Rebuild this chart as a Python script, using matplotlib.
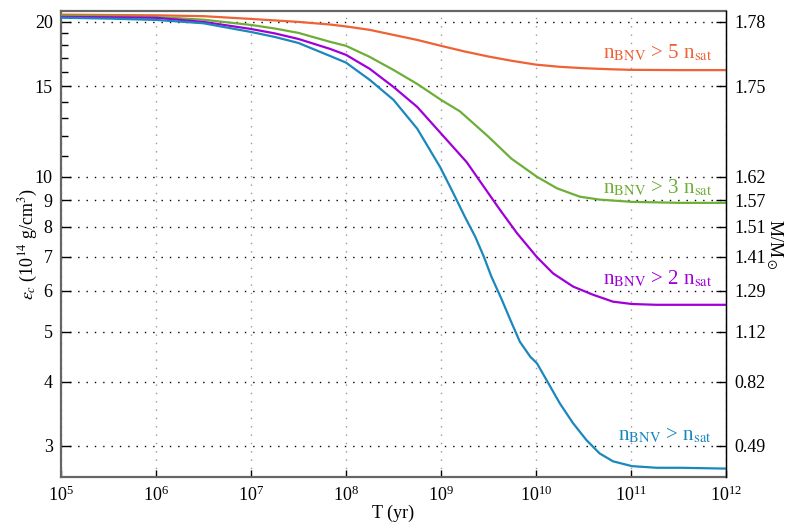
import numpy as np
import matplotlib
matplotlib.use('Agg')
import matplotlib.pyplot as plt
from matplotlib.ticker import FixedLocator, NullLocator, NullFormatter

plt.rcParams['font.family'] = 'serif'
plt.rcParams['font.serif'] = ['Liberation Serif', 'DejaVu Serif']
plt.rcParams['mathtext.fontset'] = 'stix'

# values: log10(T / yr) and central energy density (1e14 g/cm3)
logT_5nsat = [5, 5.5, 6, 6.5, 7, 7.5, 7.83, 8, 8.25, 8.5, 8.75, 9, 9.25, 9.5, 9.75,
              10, 10.25, 10.5, 10.75, 11, 11.5, 12]
eps_5nsat = [20.66, 20.63, 20.6, 20.52, 20.27, 20.0, 19.77, 19.6, 19.3, 18.87, 18.45,
             17.97, 17.52, 17.13, 16.80, 16.52, 16.36, 16.26, 16.19, 16.14, 16.12, 16.12]

logT_3nsat = [5, 5.5, 6, 6.5, 7, 7.25, 7.5, 7.83, 8, 8.25, 8.5, 8.75, 9, 9.2, 9.5, 9.74,
              10.01, 10.22, 10.46, 10.67, 11.01, 11.52, 12]
eps_3nsat = [20.55, 20.5, 20.45, 20.2, 19.73, 19.42, 19.04, 18.3, 17.97, 17.10, 16.13, 15.15,
             14.11, 13.40, 11.96, 10.85, 10.0, 9.50, 9.15, 9.03, 8.94, 8.90, 8.90]

logT_2nsat = [5, 5.5, 6, 6.5, 7, 7.25, 7.5, 7.83, 8, 8.25, 8.5, 8.75, 9, 9.27, 9.45, 9.62,
              9.80, 10.01, 10.18, 10.39, 10.60, 10.81, 11.01, 11.27, 12]
eps_2nsat = [20.45, 20.42, 20.37, 20.0, 19.38, 19.0, 18.53, 17.73, 17.26, 16.21, 14.95, 13.67,
             12.14, 10.68, 9.57, 8.63, 7.77, 6.98, 6.49, 6.12, 5.90, 5.72, 5.66, 5.64, 5.64]

logT_1nsat = [5, 5.5, 6, 6.5, 7, 7.25, 7.5, 7.83, 8, 8.25, 8.5, 8.75, 8.99, 9.13, 9.25, 9.36,
              9.45, 9.53, 9.64, 9.73, 9.83, 9.94, 10.01, 10.11, 10.25, 10.39, 10.53,
              10.67, 10.81, 11.01, 11.27, 11.52, 12]
eps_1nsat = [20.38, 20.3, 20.18, 19.88, 19.12, 18.70, 18.2, 17.18, 16.67, 15.43, 14.11, 12.4,
             10.45, 9.29, 8.37, 7.65, 7.0, 6.40, 5.77, 5.27, 4.78, 4.47, 4.34, 4.03, 3.63,
             3.32, 3.08, 2.90, 2.80, 2.74, 2.72, 2.72, 2.71]

curve_labels = [r'n$_{\rm BNV}$ > 5 n$_{\rm sat}$', r'n$_{\rm BNV}$ > 3 n$_{\rm sat}$',
                r'n$_{\rm BNV}$ > 2 n$_{\rm sat}$', r'n$_{\rm BNV}$ > n$_{\rm sat}$']
label_y = [17.02, 9.30, 6.17, 3.08]
colors = ['#EE6235', '#6DAE37', '#A000D8', '#1A87BD']

eps_ticks = [3, 4, 5, 6, 7, 8, 9, 10, 15, 20]
eps_minor = [11, 12, 13, 14, 16, 17, 18, 19]
mass_labels = ['0.49', '0.82', '1.12', '1.29', '1.41', '1.51', '1.57', '1.62', '1.75', '1.78']

curves = [(logT_5nsat, eps_5nsat), (logT_3nsat, eps_3nsat),
          (logT_2nsat, eps_2nsat), (logT_1nsat, eps_1nsat)]

fig = plt.figure(figsize=(7.89, 5.22), dpi=100)
ax = fig.add_axes([0.0773, 0.0862, 0.8429, 0.8927])

for (lt, eps), c, lab, ly in zip(curves, colors, curve_labels, label_y):
    ax.plot(10.0 ** np.array(lt), eps, color=c, lw=1.6, zorder=3)
    ax.text(7.1e11, ly, lab, color=c, fontsize=15, ha='right', va='baseline')

ax.set_xscale('log')
ax.set_yscale('log')
ax.set_xlim(1e5, 1e12)
ax.set_ylim(2.61, 21.0)

ax.xaxis.set_major_locator(FixedLocator([10.0 ** k for k in range(5, 13)]))
ax.xaxis.set_minor_locator(NullLocator())
ax.set_yticks(eps_ticks)
ax.set_yticklabels([str(v) for v in eps_ticks])
ax.yaxis.set_minor_locator(FixedLocator(eps_minor))
ax.yaxis.set_minor_formatter(NullFormatter())

ax.tick_params(axis='both', which='major', direction='in', labelsize=13, pad=6)
ax.tick_params(axis='y', which='major', length=7, width=1)
ax.tick_params(axis='y', which='minor', direction='in', length=5, width=1)
ax.tick_params(axis='x', which='major', length=5, width=1)

ax.grid(True, axis='x', which='major', color='#999999', ls=(0, (1, 5)), lw=1)
ax.grid(True, axis='y', which='major', color='black', ls=(0, (1, 5)), lw=1)

for side in ['left', 'top', 'bottom']:
    ax.spines[side].set_color('#666666')
    ax.spines[side].set_linewidth(1.6)

ax.set_xlabel('T (yr)', fontsize=13, labelpad=0)
ax.set_ylabel(r'$\varepsilon_c$ (10$^{14}$ g/cm$^3$)', fontsize=13, labelpad=-4)

ax2 = ax.twinx()
ax2.set_yscale('log')
ax2.set_ylim(ax.get_ylim())
ax2.set_yticks(eps_ticks)
ax2.set_yticklabels(mass_labels)
ax2.yaxis.set_minor_locator(NullLocator())
ax2.tick_params(axis='y', which='major', direction='in', length=7, width=1, labelsize=13, pad=6)
ax2.spines['right'].set_color('black')
ax2.spines['right'].set_linewidth(1.0)
for side in ['left', 'top', 'bottom']:
    ax2.spines[side].set_visible(False)
ax2.set_ylabel(r'M/M$_\odot$', fontsize=13, rotation=270, labelpad=14)

fig.savefig('out.png', dpi=100)
